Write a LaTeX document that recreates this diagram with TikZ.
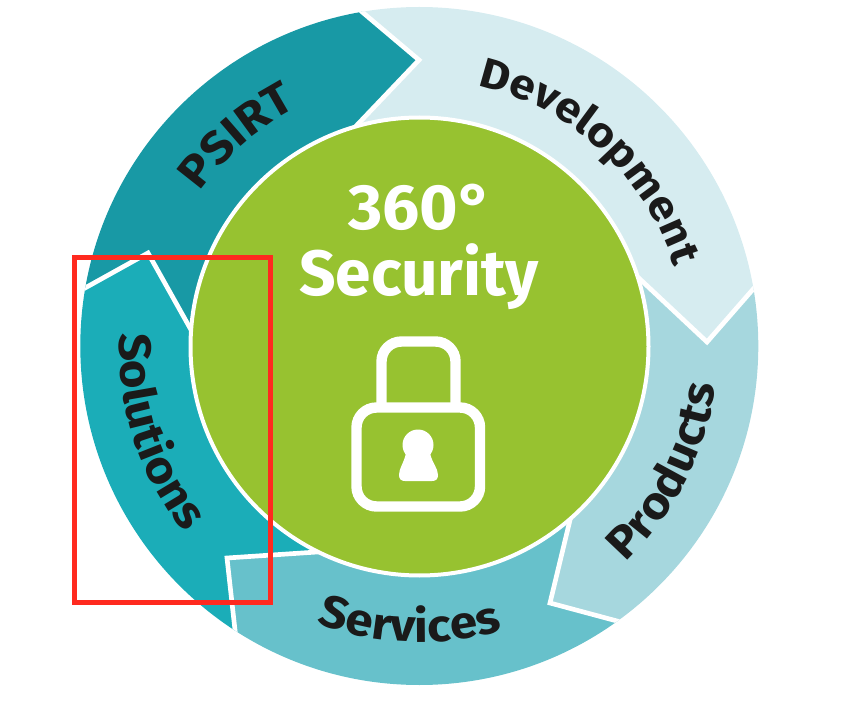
\documentclass[tikz,border=0pt]{standalone}
\usepackage{fontspec}
\setmainfont{Fira Sans}
\newfontfamily\segfamily[FakeStretch=1.09]{Fira Sans}
\usetikzlibrary{calc,decorations.text}
\definecolor{psirtc}{HTML}{1899A5}
\definecolor{solc}{HTML}{1BADB8}
\definecolor{servc}{HTML}{67C1CB}
\definecolor{prodc}{HTML}{A6D7DE}
\definecolor{devc}{HTML}{D6ECF0}
\definecolor{greenc}{HTML}{97C230}
\definecolor{inkc}{HTML}{1A1A1A}
\definecolor{redc}{HTML}{FF2A1F}
\newcommand{\segfont}{\segfamily\fontsize{34pt}{34pt}\selectfont\bfseries}
\newcommand{\devfont}{\segfamily\fontsize{31.6pt}{32pt}\selectfont\bfseries}
\newcommand{\arctext}[5]{%
  \path[decorate,decoration={text along path,text align=center,
    text={|#5\color{inkc}|#4}}] ($(c)+(#2:#1)$) arc[start angle=#2,end angle=#3,radius=#1];}
\tikzset{
  junction/.style={draw=white,line width=3.5pt,miter limit=10},
  lockline/.style={draw=white,line width=7.8pt},
  titletext/.style={text=white,font=\fontsize{48pt}{48pt}\selectfont\bfseries,inner sep=0pt},
}
\begin{document}
\begin{tikzpicture}[x=.75pt,y=.75pt]
\useasboundingbox (0,0) rectangle (850,708);
\coordinate (c) at (419.3,362);
\coordinate (o1) at (361,697); \coordinate (t1) at (419,648); \coordinate (i1) at (358,584);
\coordinate (o2) at (755,421); \coordinate (t2) at (707,366); \coordinate (i2) at (643,426);
\coordinate (o3) at (617,87);  \coordinate (t3) at (550,105); \coordinate (i3) at (570,188);
\coordinate (o4) at (235,78);  \coordinate (t4) at (227,150); \coordinate (i4) at (317,156);
\coordinate (o5) at (85,420);  \coordinate (t5) at (148,455); \coordinate (i5) at (190,380);
\foreach \n in {1,...,5}{
  \coordinate (O\n) at ($(t\n)!1.25!(o\n)$);
}
\begin{scope}
\clip (c) circle[radius=339];
\fill[psirtc] (c) -- (i5) -- (t5) -- (O5) -- ($(c)+(130:900)$) -- (O1) -- (t1) -- (i1) -- cycle;
\fill[devc] (c) -- (i1) -- (t1) -- (O1) -- ($(c)+(45:900)$) -- (O2) -- (t2) -- (i2) -- cycle;
\fill[prodc] (c) -- (i2) -- (t2) -- (O2) -- ($(c)+(-25:900)$) -- (O3) -- (t3) -- (i3) -- cycle;
\fill[servc] (c) -- (i3) -- (t3) -- (O3) -- ($(c)+(-90:900)$) -- (O4) -- (t4) -- (i4) -- cycle;
\fill[solc] (c) -- (i4) -- (t4) -- (O4) -- ($(c)+(200:900)$) -- (O5) -- (t5) -- (i5) -- cycle;
\foreach \n in {1,...,5}{
  \draw[junction] (O\n) -- (t\n) -- ($(t\n)!1.15!(i\n)$);
}
\end{scope}
\node[circle,draw=white,line width=3pt,fill=greenc,minimum size=343.5pt,inner sep=0pt] (disc) at (419.5,361.5) {};
\node[titletext] (deg) at (418,501) {\addfontfeature{FakeStretch=1.03}\hspace*{4pt}360°};
\node[titletext] (sec) at (419,431) {Security};
\draw[lockline,rounded corners=15pt] (381.5,305) -- (381.5,366.5) -- (455.5,366.5) -- (455.5,305);
\draw[lockline,rounded corners=15pt] (356.5,300.5) rectangle (480,201.5);
\fill[white] (418,263) circle[radius=15.5];
\fill[white] (406,255) .. controls (404,245) and (399,240) .. (399,233)
  .. controls (399,229) and (401,227) .. (405,227) -- (432,227)
  .. controls (436,227) and (438,229) .. (438,233)
  .. controls (438,240) and (432,245) .. (430,255) -- cycle;
\arctext{267}{94.3}{0.3}{Development}{\devfont}
\arctext{268}{165}{97}{PSIRT}{\segfont}
\arctext{299}{-62}{8}{Products}{\segfont}
\arctext{296}{233}{303}{Services}{\segfont}
\arctext{300}{163}{233}{Solutions}{\segfont}
\draw[redc,line width=3.75pt] (74.5,450.5) rectangle (270.5,105.5);
\end{tikzpicture}
\end{document}
